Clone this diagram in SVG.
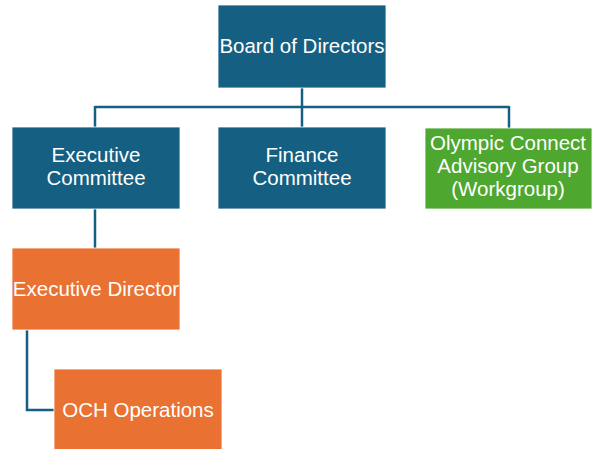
<svg xmlns="http://www.w3.org/2000/svg" width="592" height="449" viewBox="0 0 592 449">
  <style>
    .blue { fill: #156082; }
    .orange { fill: #E97132; }
    .green { fill: #4EA72E; }
    .box { stroke: #ffffff; stroke-width: 0.8; }
    .lbl { font-family: "Liberation Sans", Arial, sans-serif; font-size: 20.5px; fill: #ffffff; text-anchor: middle; }
    .conn { fill: none; stroke: #156082; stroke-width: 2.5; }
  </style>
  <rect width="592" height="449" fill="#ffffff"/>

  <g id="connectors">
    <path class="conn" d="M302 88 V107"/>
    <path class="conn" d="M95 107 H509"/>
    <path class="conn" d="M95 106 V127"/>
    <path class="conn" d="M302 106 V127"/>
    <path class="conn" d="M509 106 V128"/>
    <path class="conn" d="M95 209 V248"/>
    <path class="conn" d="M27 330 V410 H55"/>
  </g>

  <g id="board">
    <rect class="blue box" x="218" y="5" width="168" height="83"/>
    <text class="lbl" x="302" y="53">Board of Directors</text>
  </g>

  <g id="executive-committee">
    <rect class="blue box" x="12" y="127" width="168" height="82"/>
    <text class="lbl" x="96" y="162">Executive</text>
    <text class="lbl" x="96" y="185">Committee</text>
  </g>

  <g id="finance-committee">
    <rect class="blue box" x="218" y="127" width="168" height="82"/>
    <text class="lbl" x="302" y="162">Finance</text>
    <text class="lbl" x="302" y="185">Committee</text>
  </g>

  <g id="olympic-connect">
    <rect class="green box" x="425" y="128" width="167" height="81"/>
    <text class="lbl" x="508" y="150">Olympic Connect</text>
    <text class="lbl" x="508" y="173">Advisory Group</text>
    <text class="lbl" x="508" y="196">(Workgroup)</text>
  </g>

  <g id="executive-director">
    <rect class="orange box" x="12" y="248" width="168" height="82"/>
    <text class="lbl" x="96" y="296">Executive Director</text>
  </g>

  <g id="och-operations">
    <rect class="orange box" x="54" y="369" width="168" height="82"/>
    <text class="lbl" x="138" y="417">OCH Operations</text>
  </g>
</svg>
